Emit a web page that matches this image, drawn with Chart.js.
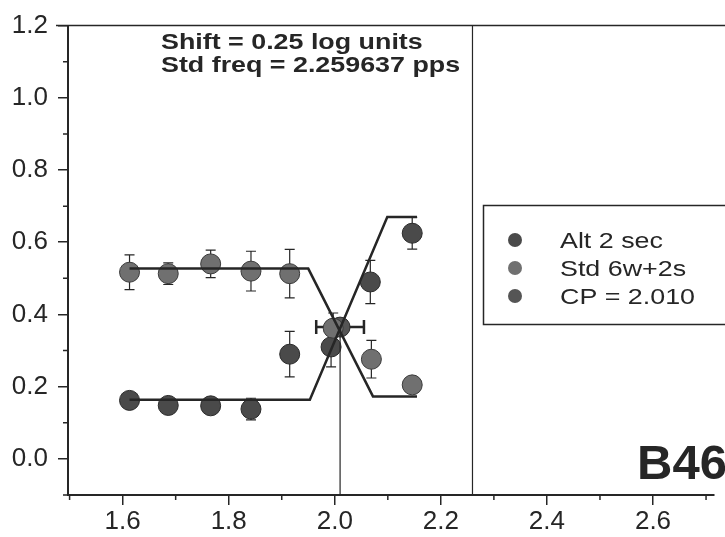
<!DOCTYPE html>
<html>
<head>
<meta charset="utf-8">
<script src="https://cdn.jsdelivr.net/npm/chart.js@4.4.0/dist/chart.umd.min.js"></script>
<style>
  body { margin: 0; background: #fff; }
  #wrap { width: 725px; height: 537px; }
</style>
</head>
<body>
<div id="wrap"><canvas id="chart" width="725" height="537"></canvas></div>
<script>
// Std 6w+2s responses (falling curve)
const stdX = [1.613, 1.686, 1.766, 1.842, 1.915, 1.997, 2.069, 2.146];
const stdY = [0.517, 0.513, 0.540, 0.520, 0.513, 0.362, 0.276, 0.205];
const stdErr = [0.048, 0.030, 0.038, 0.055, 0.067, 0.042, 0.052, 0.020];

// Alt 2 sec responses (rising curve)
const altX = [1.613, 1.686, 1.766, 1.842, 1.915, 1.993, 2.067, 2.146];
const altY = [0.162, 0.148, 0.147, 0.138, 0.290, 0.310, 0.490, 0.625];
const altErr = [0.010, 0.010, 0.010, 0.030, 0.063, 0.055, 0.060, 0.044];

// crossing point with its horizontal spread
const cpX = [2.010];
const cpY = [0.365];
const cpXErr = [0.045];

// piecewise fits
const stdFitX = [1.613, 1.950, 2.072, 2.155];
const stdFitY = [0.527, 0.527, 0.173, 0.173];
const altFitX = [1.613, 1.953, 2.099, 2.155];
const altFitY = [0.164, 0.164, 0.670, 0.670];

const stdFreq = 2.259637;

const xTicks = [1.6, 1.8, 2.0, 2.2, 2.4, 2.6];
const xMinor = [1.5, 1.7, 1.9, 2.1, 2.3, 2.5, 2.7];
const yTicks = [0.0, 0.2, 0.4, 0.6, 0.8, 1.0, 1.2];
const yMinor = [-0.1, 0.1, 0.3, 0.5, 0.7, 0.9, 1.1];

const legendLabels = ["Alt 2 sec", "Std 6w+2s", "CP = 2.010"];
const infoLines = ["Shift = 0.25 log units", "Std freq = 2.259637 pps"];
const panelLabel = "B46";

const ink = "#262626";

function toPoints(xs, ys) {
  return xs.map((x, i) => ({ x: x, y: ys[i] }));
}

function drawStretched(c, text, x, y, font, sx) {
  c.save();
  c.translate(x, y);
  c.scale(sx, 1);
  c.font = font;
  c.fillText(text, 0, 0);
  c.restore();
}

// error bars sit under the markers
const errorBars = {
  id: "errorBars",
  beforeDatasetsDraw(chart) {
    const c = chart.ctx;
    const xs = chart.scales.x, ys = chart.scales.y;
    c.save();
    c.strokeStyle = ink;
    c.lineWidth = 1.2;
    chart.data.datasets.forEach(ds => {
      ds.data.forEach((p, i) => {
        const px = xs.getPixelForValue(p.x);
        const py = ys.getPixelForValue(p.y);
        if (ds.yErr) {
          const t = ys.getPixelForValue(p.y + ds.yErr[i]);
          const b = ys.getPixelForValue(p.y - ds.yErr[i]);
          c.beginPath();
          c.moveTo(px, t); c.lineTo(px, b);
          c.moveTo(px - 5, t); c.lineTo(px + 5, t);
          c.moveTo(px - 5, b); c.lineTo(px + 5, b);
          c.stroke();
        }
        if (ds.xErr) {
          const l = xs.getPixelForValue(p.x - ds.xErr[i]);
          const r = xs.getPixelForValue(p.x + ds.xErr[i]);
          c.lineWidth = 2.5;
          c.beginPath();
          c.moveTo(l, py); c.lineTo(r, py);
          c.moveTo(l, py - 7); c.lineTo(l, py + 7);
          c.moveTo(r, py - 7); c.lineTo(r, py + 7);
          c.stroke();
          c.lineWidth = 1.2;
        }
      });
    });
    c.restore();
  }
};

const decorations = {
  id: "decorations",
  afterDraw(chart) {
    const c = chart.ctx;
    const xs = chart.scales.x, ys = chart.scales.y;
    const area = chart.chartArea;
    c.save();
    c.strokeStyle = ink;

    // minor ticks
    c.lineWidth = 1.5;
    c.beginPath();
    yMinor.forEach(v => {
      const p = ys.getPixelForValue(v);
      c.moveTo(area.left - 5, p); c.lineTo(area.left, p);
    });
    xMinor.forEach(v => {
      const p = xs.getPixelForValue(v);
      c.moveTo(p, area.bottom); c.lineTo(p, area.bottom + 5);
    });
    c.stroke();

    // top frame line
    c.lineWidth = 1.5;
    c.beginPath();
    c.moveTo(area.left - 12, area.top);
    c.lineTo(chart.width, area.top);
    c.stroke();

    // info text
    c.fillStyle = ink;
    c.textBaseline = "alphabetic";
    c.textAlign = "left";
    drawStretched(c, infoLines[0], 161, 49, "bold 22px 'Liberation Sans', Arial, sans-serif", 1.22);
    drawStretched(c, infoLines[1], 161, 72, "bold 22px 'Liberation Sans', Arial, sans-serif", 1.22);

    // legend
    c.lineWidth = 1.5;
    c.strokeRect(483.5, 205.5, 260, 119);
    const colors = [altColor, stdColor, cpColor];
    legendLabels.forEach((t, i) => {
      const cy = 240 + i * 28;
      c.beginPath();
      c.arc(515, cy, 7, 0, Math.PI * 2);
      c.fillStyle = colors[i];
      c.fill();
      c.fillStyle = ink;
      drawStretched(c, t, 560, cy + 8, "22px 'Liberation Sans', Arial, sans-serif", 1.22);
    });

    // panel tag
    drawStretched(c, panelLabel, 637, 479, "bold 49px 'Liberation Sans', Arial, sans-serif", 1.0);
    c.restore();
  }
};

const altColor = "#4a4a4a";
const stdColor = "#707070";
const cpColor = "#555555";

const lineStyle = {
  showLine: true,
  pointRadius: 0,
  borderColor: ink,
  borderWidth: 2.5,
  fill: false
};

const chart = document.getElementById("chart").getContext("2d");

new Chart(chart, {
  type: "scatter",
  data: {
    datasets: [
      Object.assign({ label: "std fit", data: toPoints(stdFitX, stdFitY) }, lineStyle),
      Object.assign({ label: "alt fit", data: toPoints(altFitX, altFitY) }, lineStyle),
      Object.assign({}, lineStyle, {
        label: "cp line",
        data: [{ x: cpX[0], y: -0.1 }, { x: cpX[0], y: cpY[0] }],
        borderWidth: 1.2
      }),
      Object.assign({}, lineStyle, {
        label: "std freq",
        data: [{ x: stdFreq, y: -0.1 }, { x: stdFreq, y: 1.2 }],
        borderWidth: 1.2
      }),
      {
        label: legendLabels[1],
        data: toPoints(stdX, stdY),
        yErr: stdErr,
        pointRadius: 10,
        backgroundColor: stdColor,
        borderColor: "#3a3a3a",
        borderWidth: 1
      },
      {
        label: legendLabels[0],
        data: toPoints(altX, altY),
        yErr: altErr,
        pointRadius: 10,
        backgroundColor: altColor,
        borderColor: "#2a2a2a",
        borderWidth: 1
      },
      {
        label: legendLabels[2],
        data: toPoints(cpX, cpY),
        xErr: cpXErr,
        pointRadius: 10,
        backgroundColor: cpColor,
        borderColor: "#2a2a2a",
        borderWidth: 1
      }
    ]
  },
  options: {
    responsive: false,
    animation: false,
    layout: { padding: { top: 20, right: 0, left: 0, bottom: 0 } },
    plugins: {
      legend: { display: false },
      tooltip: { enabled: false }
    },
    scales: {
      x: {
        type: "linear",
        min: 1.497,
        max: 2.715,
        afterBuildTicks: s => { s.ticks = xTicks.map(v => ({ value: v })); },
        afterFit: s => { s.height = 42; },
        grid: { drawOnChartArea: false, drawTicks: true, tickLength: 10, color: ink, lineWidth: 1.5 },
        border: { display: true, color: ink, width: 2 },
        ticks: {
          padding: 1,
          color: ink,
          font: { family: "'Liberation Sans', Arial, sans-serif", size: 26 },
          callback: v => v.toFixed(1)
        }
      },
      y: {
        type: "linear",
        min: -0.1,
        max: 1.2,
        afterBuildTicks: s => { s.ticks = yTicks.map(v => ({ value: v })); },
        afterFit: s => { s.width = 68; },
        grid: { drawOnChartArea: false, drawTicks: true, tickLength: 10, color: ink, lineWidth: 1.5 },
        border: { display: true, color: ink, width: 2 },
        ticks: {
          padding: 10,
          color: ink,
          font: { family: "'Liberation Sans', Arial, sans-serif", size: 26 },
          callback: v => v.toFixed(1)
        }
      }
    }
  },
  plugins: [errorBars, decorations]
});
</script>
</body>
</html>
